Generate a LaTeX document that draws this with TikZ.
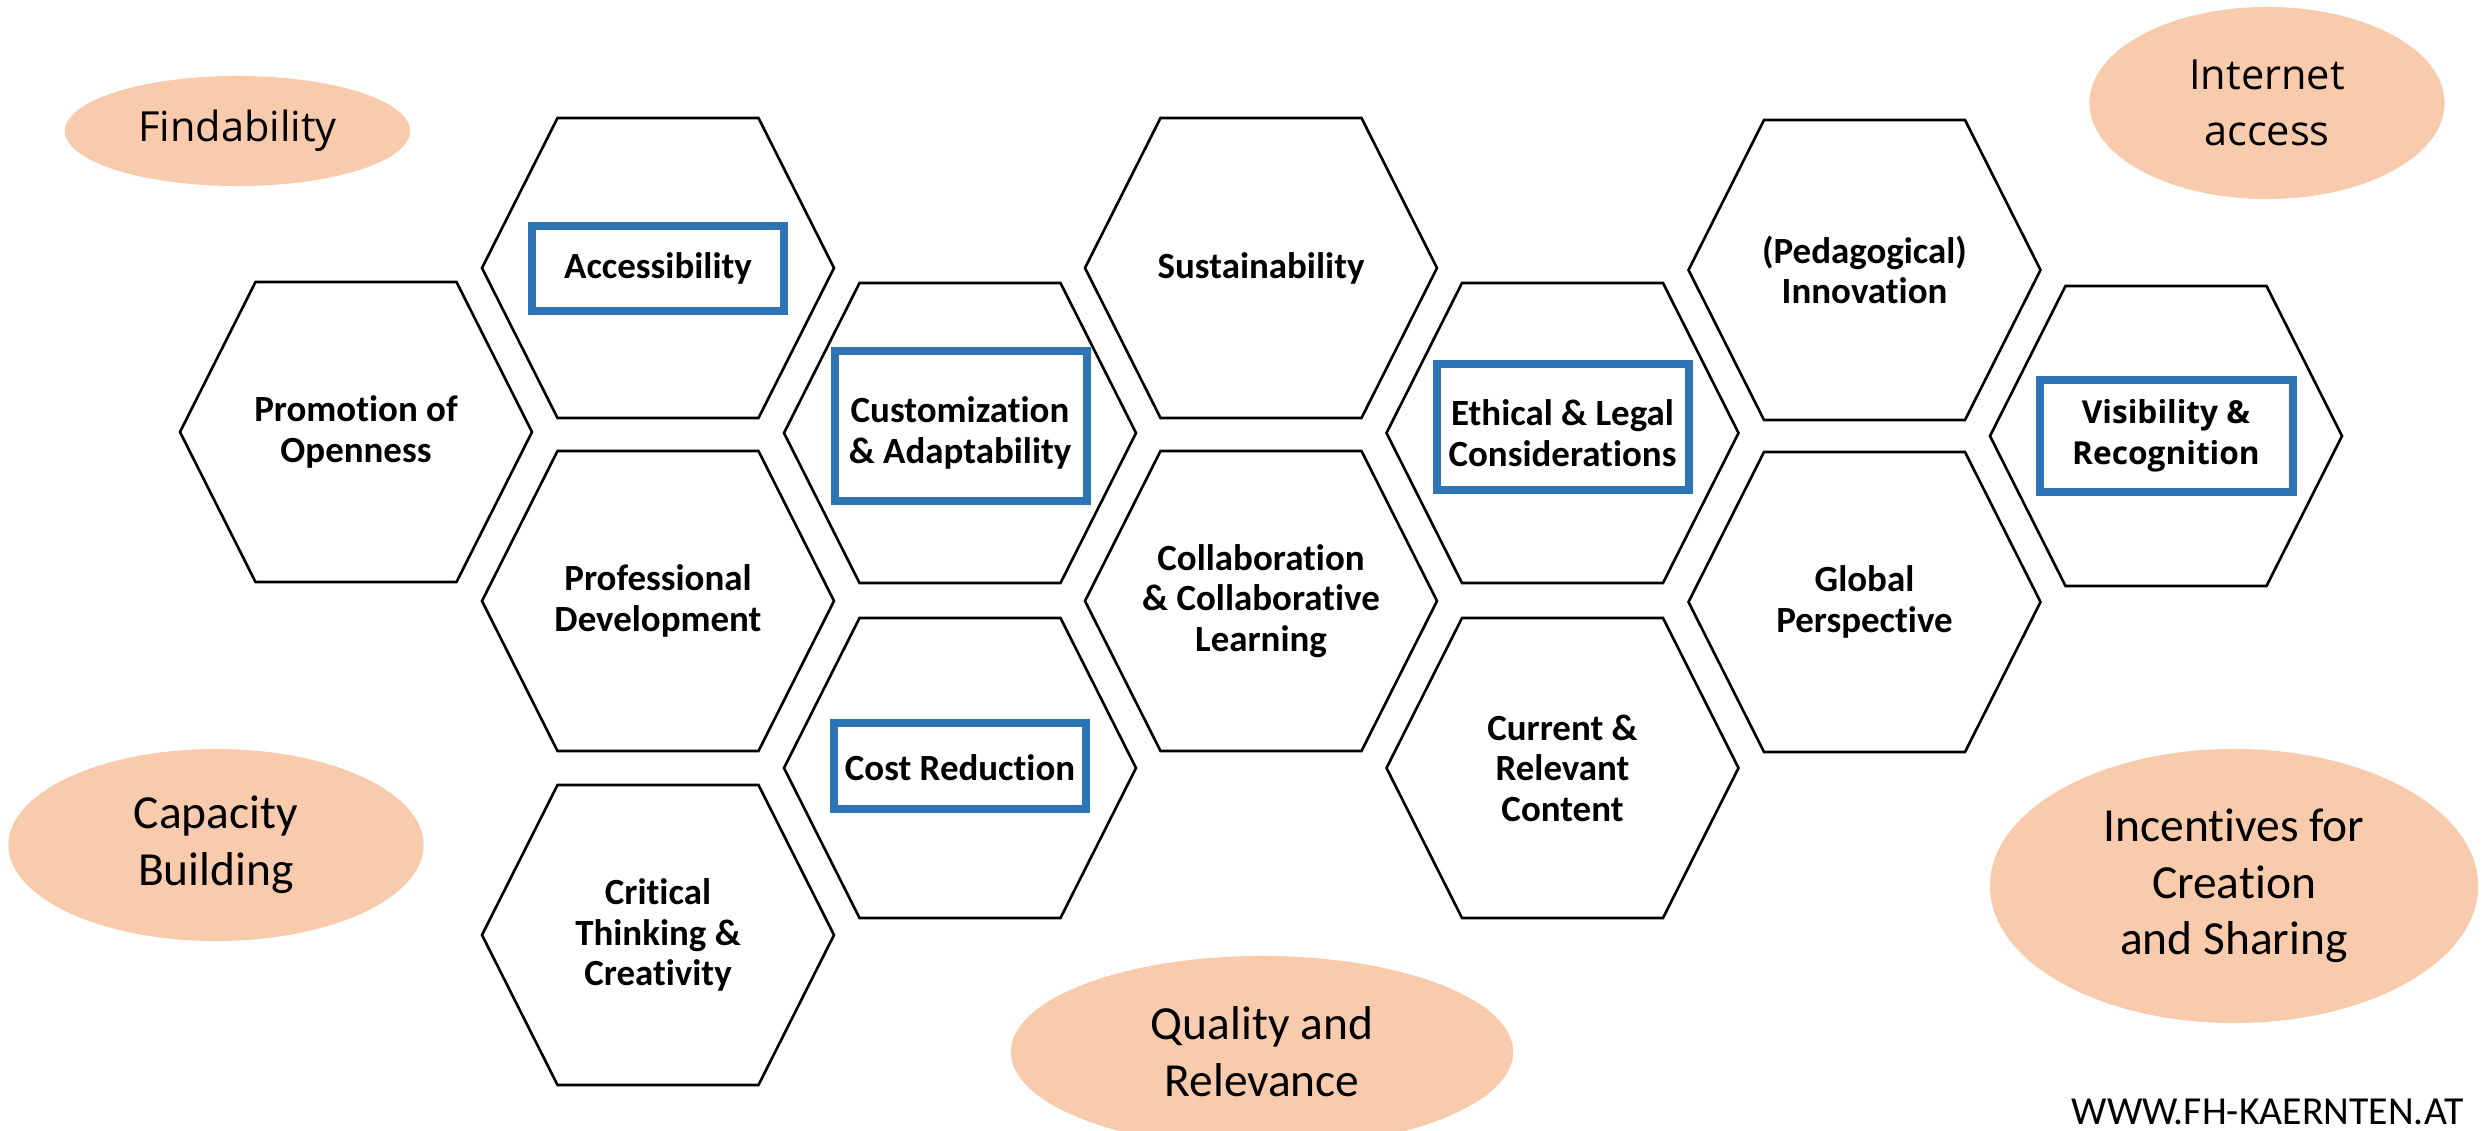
\documentclass[tikz,border=0pt]{standalone}
\usepackage{fontspec}
\setmainfont{Carlito}[Ligatures={TeX,NoCommon}]
\newfontfamily\osans{Open Sans}[Ligatures={TeX,NoCommon}]
\usetikzlibrary{shapes.geometric}
\definecolor{peach}{HTML}{F8CBAD}
\definecolor{boxblue}{HTML}{2E75B6}
\begin{document}
\begin{tikzpicture}[x=0.01cm,y=-0.01cm,
  hexline/.style={draw=black, line width=0.75pt, line join=miter, fill=white},
  hexlabel/.style={font=\bfseries\fontsize{10.5}{11.5}\selectfont, align=center, inner sep=0pt},
  bluebox/.style={draw=boxblue, line width=2.3pt, inner sep=0pt, minimum width=2.52cm},
  oval/.style={ellipse, fill=peach, inner sep=0pt, align=center, font=\fontsize{13.5}{16.1}\selectfont},
  ovalos/.style={oval, font=\osans\fontsize{11.8}{16}\selectfont},
  hexcell/.pic={\path[hexline] (-176,0) -- (-100.5,-150) -- (100.5,-150) -- (176,0) -- (100.5,150) -- (-100.5,150) -- cycle;}
]
\useasboundingbox (0,0) rectangle (2484,1131);
\clip (0,0) rectangle (2484,1131);

% ellipses
\node[ovalos, minimum width=3.45cm, minimum height=1.1cm] (find) at (237.5,131) {Findability};
\node[ovalos, minimum width=3.55cm, minimum height=1.92cm] (inet) at (2267,103) {Internet\\access};
\node[oval, minimum width=4.15cm, minimum height=1.92cm] (cap) at (216,845) {Capacity\\Building};
\node[oval, minimum width=5.02cm, minimum height=1.92cm] (qual) at (1262,1052) {Quality and\\Relevance};
\node[oval, minimum width=4.88cm, minimum height=2.74cm] (inc) at (2234,886) {Incentives for\\Creation\\and Sharing};

% hexagons
\pic at (356,432) {hexcell};
\pic at (658,268) {hexcell};
\pic at (658,601) {hexcell};
\pic at (658,935) {hexcell};
\pic at (960,433) {hexcell};
\pic at (960,768) {hexcell};
\pic at (1261,268) {hexcell};
\pic at (1261,601) {hexcell};
\pic at (1562.5,433) {hexcell};
\pic at (1562.5,768) {hexcell};
\pic at (1864.5,270) {hexcell};
\pic at (1864.5,602) {hexcell};
\pic at (2166,436) {hexcell};

% blue boxes
\node[bluebox, minimum height=0.85cm] (accbox) at (658,268.4) {};
\node[bluebox, minimum height=1.50cm] (custbox) at (961,426) {};
\node[bluebox, minimum height=0.86cm] (costbox) at (960,766) {};
\node[bluebox, minimum width=2.51cm, minimum height=1.26cm] (ethbox) at (1563,427) {};
\node[bluebox, minimum height=1.12cm] (visbox) at (2166.5,436) {};

% labels
\node[hexlabel] (prom) at (356,432) {Promotion of\\Openness};
\node[hexlabel] (acc) at (658,268) {Accessibility};
\node[hexlabel] (prof) at (658,601) {Professional\\Development};
\node[hexlabel] (crit) at (658,935) {Critical\\Thinking \&\\Creativity};
\node[hexlabel] (cust) at (960,433) {Customization\\\& Adaptability};
\node[hexlabel] (cost) at (960,768) {Cost Reduction};
\node[hexlabel] (sust) at (1261,268) {Sustainability};
\node[hexlabel] (coll) at (1261,601) {Collaboration\\\& Collaborative\\Learning};
\node[hexlabel] (eth) at (1562.5,433) {Ethical \& Legal\\Considerations};
\node[hexlabel] (curr) at (1562.5,768) {Current \&\\Relevant\\Content};
\node[hexlabel] (ped) at (1864.5,270) {(Pedagogical)\\Innovation};
\node[hexlabel] (glob) at (1864.5,602) {Global\\Perspective};
\node[hexlabel, font=\osans\bfseries\fontsize{9}{11.7}\selectfont] (vis) at (2166,436) {Visibility \&\\Recognition};

\node[font=\fontsize{11.3}{13}\selectfont, anchor=east, inner sep=0pt] (www) at (2464,1112) {WWW.FH-KAERNTEN.AT};
\end{tikzpicture}
\end{document}
